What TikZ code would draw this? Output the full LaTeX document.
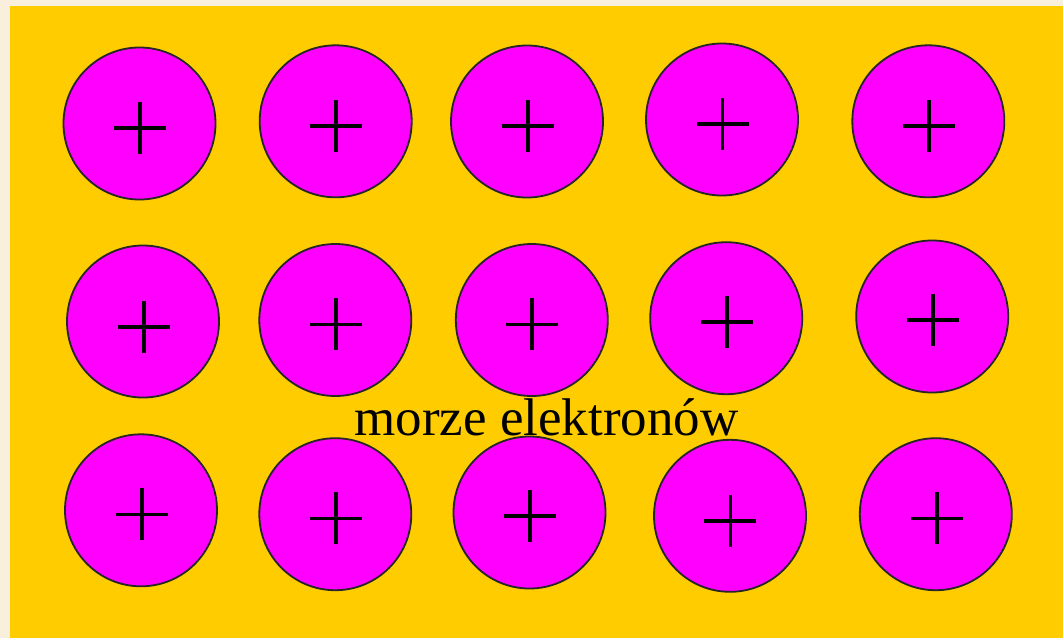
\documentclass[tikz,border=0pt]{standalone}
\usepackage{fontspec}
\setmainfont{Liberation Serif}
\definecolor{seaYellow}{HTML}{FFCC00}
\definecolor{ionMagenta}{HTML}{FF00FF}
\definecolor{pageBeige}{HTML}{F8EFDD}

\begin{document}
\begin{tikzpicture}[x=0.5pt, y=-0.5pt,
    ion/.style={circle, draw=black!85, fill=ionMagenta, line width=0.9pt,
      minimum size=76pt, inner sep=0pt},
    plussign/.style={line width=1.8pt, black}]
  \fill[pageBeige] (0,0) rectangle (1063,638);
  \fill[seaYellow] (10,6) rectangle (1063,638);
  % ions: number / centre / plus sign
  \foreach \n/\cx/\cy/\px/\py in {
      1/139.5/123.5/140/128, 2/335.7/121.3/336/126, 3/527/121.5/528/126,
      4/722/119.5/722.6/124, 5/928.3/121.3/928.7/126,
      6/143/321.5/144/326.7, 7/335.3/320/335.8/324.3, 8/531.8/320/532/324.3,
      9/726.2/318.2/726.7/322, 10/932.2/316.5/932.7/320,
      11/141/510.3/142.2/514.3, 12/335.3/514.2/335.8/518.3, 13/529.5/512.5/530.2/516,
      14/730/515.8/730.3/520.7, 15/935.8/514.2/936.7/518.3}{
    \node[ion] (ion\n) at (\cx,\cy) {};
    \draw[plussign] (\px-26,\py) -- (\px+26,\py) (\px,\py-26) -- (\px,\py+26);
  }
  \node[anchor=base, font=\fontsize{26.5pt}{30pt}\selectfont] (sea)
    at (546.5,435) {morze elektronów};
\end{tikzpicture}
\end{document}
